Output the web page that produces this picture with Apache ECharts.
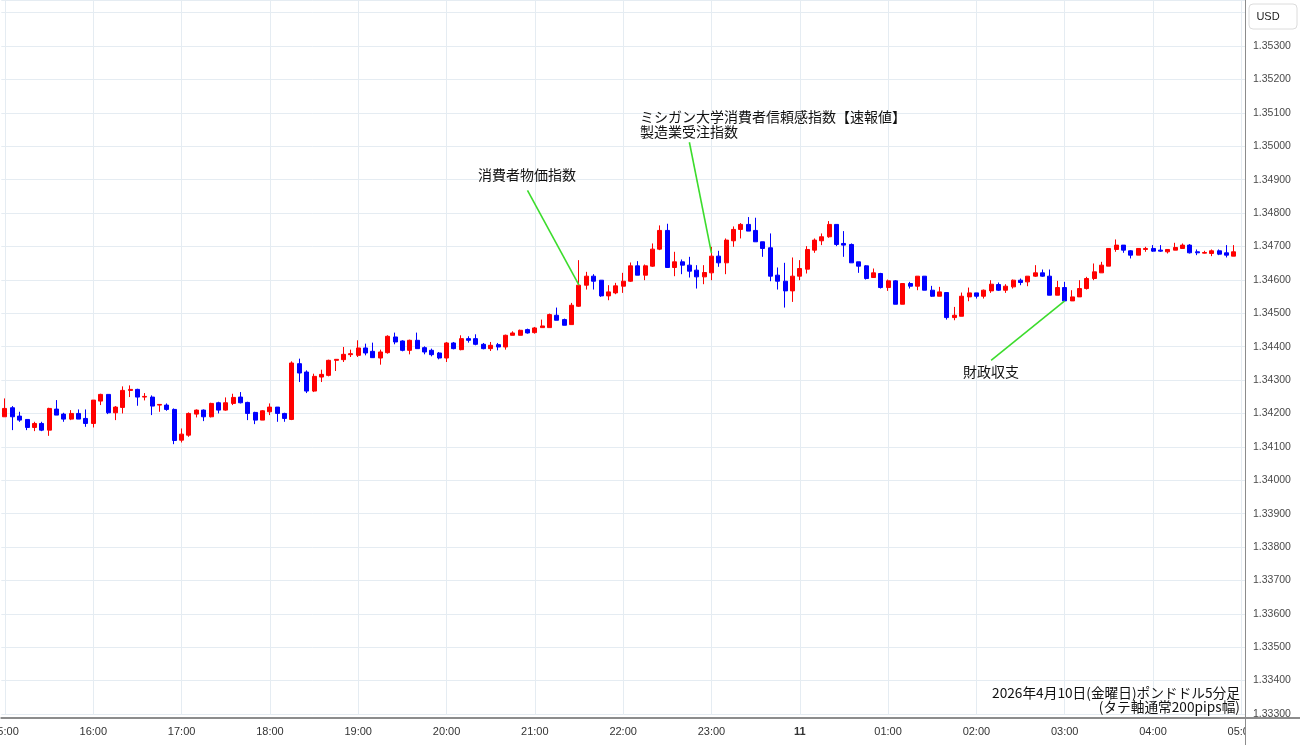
<!DOCTYPE html>
<html>
<head>
<meta charset="utf-8">
<script src="https://cdn.jsdelivr.net/npm/echarts@6/dist/echarts.min.js"></script>
<style>
html,body{margin:0;padding:0;background:#fff;}
#chart{width:1300px;height:745px;}
</style>
</head>
<body>
<div id="chart"></div>
<script>
// ---- categories: 5-minute bars from 15:00 to 05:00 ----
const startHour = 15;
const barCount = 169;
const categories = [];
for (let k = 0; k < barCount; k++) {
  const m = startHour * 60 + k * 5;
  const h = Math.floor(m / 60) % 24, mm = m % 60;
  categories.push(String(h).padStart(2, '0') + ':' + String(mm).padStart(2, '0'));
}
const dayLabel = '11';           // label shown at 00:00
const currencyLabel = 'USD';

// ---- OHLC values ----
const opens = [
1.34190,1.34217,1.34192,1.34182,1.34158,1.34170,1.34150,1.34213,1.34198,1.34183,
1.34200,1.34185,1.34170,1.34237,1.34257,1.34202,1.34218,1.34269,1.34272,1.34249,
1.34249,1.34225,1.34225,1.34212,1.34120,1.34135,1.34198,1.34210,1.34190,1.34232,
1.34210,1.34230,1.34249,1.34233,1.34203,1.34180,1.34205,1.34219,1.34200,1.34182,
1.34349,1.34324,1.34267,1.34309,1.34314,1.34359,1.34361,1.34376,1.34374,1.34396,
1.34386,1.34366,1.34382,1.34429,1.34417,1.34389,1.34419,1.34397,1.34389,1.34381,
1.34366,1.34411,1.34391,1.34424,1.34424,1.34407,1.34394,1.34406,1.34399,1.34434,
1.34434,1.34451,1.34442,1.34457,1.34457,1.34494,1.34481,1.34466,1.34521,1.34584,
1.34611,1.34599,1.34552,1.34561,1.34581,1.34596,1.34642,1.34614,1.34641,1.34692,
1.34748,1.34637,1.34654,1.34644,1.34629,1.34609,1.34621,1.34671,1.34651,1.34717,
1.34751,1.34766,1.34748,1.34714,1.34696,1.34614,1.34596,1.34567,1.34611,1.34632,
1.34689,1.34717,1.34729,1.34766,1.34709,1.34706,1.34654,1.34642,1.34607,1.34619,
1.34577,1.34597,1.34527,1.34589,1.34581,1.34611,1.34569,1.34551,1.34562,1.34487,
1.34491,1.34549,1.34561,1.34551,1.34567,1.34586,1.34569,1.34579,1.34599,1.34594,
1.34611,1.34621,1.34611,1.34554,1.34577,1.34537,1.34549,1.34574,1.34604,1.34621,
1.34641,1.34691,1.34704,1.34687,1.34674,1.34691,1.34694,1.34689,1.34684,1.34689,
1.34694,1.34704,1.34684,1.34680,1.34679,1.34687,1.34681,1.34671
];
const closes = [
1.34215,1.34190,1.34180,1.34158,1.34170,1.34150,1.34215,1.34195,1.34183,1.34200,
1.34183,1.34170,1.34240,1.34257,1.34202,1.34219,1.34269,1.34272,1.34249,1.34251,
1.34222,1.34227,1.34212,1.34119,1.34138,1.34200,1.34210,1.34190,1.34230,1.34210,
1.34232,1.34248,1.34232,1.34200,1.34180,1.34208,1.34219,1.34200,1.34185,1.34351,
1.34321,1.34267,1.34311,1.34317,1.34359,1.34362,1.34377,1.34379,1.34396,1.34381,
1.34367,1.34384,1.34431,1.34414,1.34389,1.34419,1.34394,1.34384,1.34376,1.34366,
1.34411,1.34394,1.34424,1.34419,1.34407,1.34394,1.34404,1.34399,1.34434,1.34441,
1.34449,1.34441,1.34456,1.34462,1.34496,1.34479,1.34464,1.34524,1.34584,1.34611,
1.34596,1.34552,1.34564,1.34582,1.34596,1.34642,1.34614,1.34642,1.34692,1.34748,
1.34637,1.34654,1.34644,1.34626,1.34609,1.34622,1.34671,1.34651,1.34719,1.34751,
1.34766,1.34746,1.34714,1.34694,1.34611,1.34596,1.34567,1.34611,1.34634,1.34691,
1.34719,1.34729,1.34766,1.34706,1.34704,1.34651,1.34641,1.34604,1.34621,1.34577,
1.34597,1.34527,1.34589,1.34581,1.34611,1.34569,1.34551,1.34564,1.34487,1.34494,
1.34551,1.34561,1.34551,1.34569,1.34587,1.34569,1.34581,1.34599,1.34592,1.34611,
1.34621,1.34611,1.34554,1.34577,1.34537,1.34549,1.34574,1.34604,1.34624,1.34644,
1.34694,1.34704,1.34689,1.34674,1.34694,1.34694,1.34686,1.34686,1.34691,1.34697,
1.34704,1.34681,1.34681,1.34682,1.34687,1.34677,1.34674,1.34684
];
const lows = [
1.34190,1.34150,1.34175,1.34150,1.34147,1.34147,1.34133,1.34195,1.34175,1.34180,
1.34183,1.34160,1.34158,1.34225,1.34198,1.34180,1.34200,1.34249,1.34223,1.34239,
1.34195,1.34205,1.34208,1.34108,1.34113,1.34130,1.34188,1.34177,1.34188,1.34200,
1.34208,1.34225,1.34230,1.34180,1.34168,1.34180,1.34195,1.34175,1.34175,1.34180,
1.34294,1.34261,1.34264,1.34294,1.34311,1.34327,1.34354,1.34369,1.34369,1.34374,
1.34366,1.34346,1.34379,1.34407,1.34386,1.34377,1.34394,1.34377,1.34371,1.34362,
1.34354,1.34392,1.34389,1.34412,1.34404,1.34392,1.34387,1.34389,1.34391,1.34434,
1.34434,1.34439,1.34439,1.34457,1.34457,1.34479,1.34464,1.34466,1.34519,1.34571,
1.34571,1.34549,1.34539,1.34557,1.34561,1.34594,1.34614,1.34599,1.34639,1.34689,
1.34637,1.34611,1.34617,1.34607,1.34574,1.34587,1.34599,1.34639,1.34617,1.34699,
1.34724,1.34746,1.34714,1.34669,1.34596,1.34571,1.34517,1.34534,1.34599,1.34619,
1.34681,1.34704,1.34726,1.34701,1.34669,1.34651,1.34621,1.34601,1.34607,1.34574,
1.34567,1.34527,1.34527,1.34574,1.34569,1.34569,1.34549,1.34551,1.34481,1.34479,
1.34491,1.34536,1.34544,1.34544,1.34561,1.34567,1.34561,1.34574,1.34584,1.34581,
1.34609,1.34609,1.34554,1.34554,1.34537,1.34537,1.34549,1.34571,1.34599,1.34621,
1.34641,1.34684,1.34681,1.34664,1.34674,1.34684,1.34684,1.34684,1.34679,1.34689,
1.34694,1.34679,1.34674,1.34679,1.34671,1.34674,1.34667,1.34671
];
const highs = [
1.34245,1.34222,1.34205,1.34182,1.34175,1.34175,1.34217,1.34240,1.34202,1.34210,
1.34212,1.34212,1.34240,1.34259,1.34257,1.34222,1.34281,1.34284,1.34274,1.34261,
1.34254,1.34228,1.34230,1.34215,1.34155,1.34203,1.34212,1.34212,1.34232,1.34235,
1.34248,1.34259,1.34264,1.34235,1.34205,1.34210,1.34230,1.34219,1.34202,1.34356,
1.34364,1.34329,1.34319,1.34331,1.34361,1.34362,1.34399,1.34391,1.34419,1.34409,
1.34412,1.34391,1.34434,1.34442,1.34419,1.34421,1.34442,1.34401,1.34394,1.34384,
1.34414,1.34414,1.34434,1.34431,1.34437,1.34411,1.34414,1.34411,1.34436,1.34446,
1.34451,1.34454,1.34459,1.34481,1.34499,1.34517,1.34484,1.34531,1.34659,1.34624,
1.34617,1.34599,1.34584,1.34591,1.34621,1.34652,1.34656,1.34646,1.34709,1.34763,
1.34768,1.34684,1.34661,1.34669,1.34644,1.34644,1.34699,1.34687,1.34724,1.34760,
1.34770,1.34788,1.34786,1.34714,1.34739,1.34637,1.34651,1.34667,1.34659,1.34701,
1.34724,1.34739,1.34776,1.34766,1.34746,1.34709,1.34654,1.34644,1.34634,1.34621,
1.34601,1.34599,1.34589,1.34594,1.34611,1.34611,1.34582,1.34579,1.34562,1.34519,
1.34562,1.34577,1.34561,1.34571,1.34599,1.34592,1.34587,1.34601,1.34604,1.34611,
1.34644,1.34631,1.34631,1.34597,1.34594,1.34569,1.34599,1.34609,1.34649,1.34654,
1.34694,1.34721,1.34704,1.34689,1.34694,1.34699,1.34704,1.34704,1.34691,1.34711,
1.34709,1.34707,1.34691,1.34687,1.34691,1.34691,1.34704,1.34704
];

// ---- economic events: [label from, label to] in data space ----
const eventLines = [
  [['20:55', 1.34868], ['21:30', 1.34584]],   // 消費者物価指数
  [['22:45', 1.35012], ['23:00', 1.34680]],   // ミシガン / 製造業受注
  [['02:10', 1.34359], ['03:00', 1.34537]]    // 財政収支
];

const candleData = categories.map((c, i) =>
  i < opens.length ? [opens[i], closes[i], lows[i], highs[i]] : '-');

const hourOnly = (index, value) => value.slice(3) === '00';
const gridColor = '#e5ecf2';
const font = "'Liberation Sans', Arial, sans-serif";

const chart = echarts.init(document.getElementById('chart'), null, {renderer: 'canvas'});
chart.setOption({
  animation: false,
  backgroundColor: '#ffffff',
  grid: {left: 1.3, right: 55, top: 0, bottom: 31, containLabel: false, outerBoundsMode: 'none'},
  xAxis: {
    type: 'category',
    data: categories,
    boundaryGap: true,
    offset: 4,
    axisLine: {show: true, lineStyle: {color: '#8c8c8c', width: 2}},
    axisTick: {show: false, alignWithLabel: true, interval: hourOnly},
    axisLabel: {
      interval: hourOnly,
      color: '#333',
      fontSize: 11,
      fontFamily: font,
      margin: 8,
      hideOverlap: false,
      formatter: v => v === '00:00' ? '{b|' + dayLabel + '}' : v,
      rich: {b: {fontWeight: 'bold', fontSize: 11, fontFamily: font, color: '#333'}}
    },
    splitLine: {show: true, interval: hourOnly, alignWithLabel: true, lineStyle: {color: gridColor, width: 1}}
  },
  yAxis: {
    type: 'value',
    position: 'right',
    min: 1.333,
    max: 1.35438,
    interval: 0.001,
    axisLine: {show: true, lineStyle: {color: '#8c8c8c', width: 1}},
    axisTick: {show: false},
    axisLabel: {
      color: '#4a4a4a', fontSize: 10.5, fontFamily: font, margin: 8,
      showMaxLabel: false,
      formatter: v => v.toFixed(5)
    },
    splitLine: {show: true, lineStyle: {color: gridColor, width: 1}}
  },
  series: [{
    type: 'candlestick',
    data: candleData,
    barWidth: 4.5,
    itemStyle: {
      color: '#ff0000', color0: '#0000ff',
      borderColor: '#ff0000', borderColor0: '#0000ff',
      borderWidth: 1
    },
    markLine: {
      silent: true,
      symbol: ['none', 'none'],
      label: {show: false},
      lineStyle: {color: '#3cdc2c', width: 1.6, type: 'solid'},
      emphasis: {disabled: true},
      data: eventLines.map(p => [{coord: p[0]}, {coord: p[1]}])
    }
  }],
  graphic: [
    {type: 'rect', z: 100, shape: {x: 1246, y: 719, width: 54, height: 26}, style: {fill: '#fff'}},
    {type: 'line', z: 101, shape: {x1: 1245.5, y1: 714, x2: 1245.5, y2: 745}, style: {stroke: '#8c8c8c', lineWidth: 1}},
    {type: 'line', z: 101, shape: {x1: 1245, y1: 718, x2: 1300, y2: 718}, style: {stroke: '#8c8c8c', lineWidth: 2}},
    {type: 'rect', z: 100, shape: {x: 1249, y: 4, width: 48, height: 25, r: 4}, style: {fill: '#fff', stroke: '#dcdcdc', lineWidth: 1}},
    {type: 'text', z: 101, style: {text: currencyLabel, x: 1268, y: 16.5, textAlign: 'center', textVerticalAlign: 'middle', font: "11px 'Liberation Sans', Arial, sans-serif", fill: '#222'}},
    {type: 'text', z: 101, style: {text: '消費者物価指数', x: 527, y: 175, textAlign: 'center', textVerticalAlign: 'middle', font: "14px 'Noto Sans CJK JP', sans-serif", fill: '#111'}},
    {type: 'text', z: 101, style: {text: 'ミシガン大学消費者信頼感指数【速報値】', x: 640, y: 117, textAlign: 'left', textVerticalAlign: 'middle', font: "14px 'Noto Sans CJK JP', sans-serif", fill: '#111'}},
    {type: 'text', z: 101, style: {text: '製造業受注指数', x: 640, y: 132, textAlign: 'left', textVerticalAlign: 'middle', font: "14px 'Noto Sans CJK JP', sans-serif", fill: '#111'}},
    {type: 'text', z: 101, style: {text: '財政収支', x: 991, y: 372, textAlign: 'center', textVerticalAlign: 'middle', font: "14px 'Noto Sans CJK JP', sans-serif", fill: '#111'}},
    {type: 'text', z: 101, style: {text: '2026年4月10日(金曜日)ポンドドル5分足', x: 1240, y: 693, textAlign: 'right', textVerticalAlign: 'middle', font: "13.7px 'Noto Sans CJK JP', sans-serif", fill: '#111'}},
    {type: 'text', z: 101, style: {text: '(タテ軸通常200pips幅)', x: 1240, y: 707, textAlign: 'right', textVerticalAlign: 'middle', font: "13.7px 'Noto Sans CJK JP', sans-serif", fill: '#111'}}
  ]
});
</script>
</body>
</html>
